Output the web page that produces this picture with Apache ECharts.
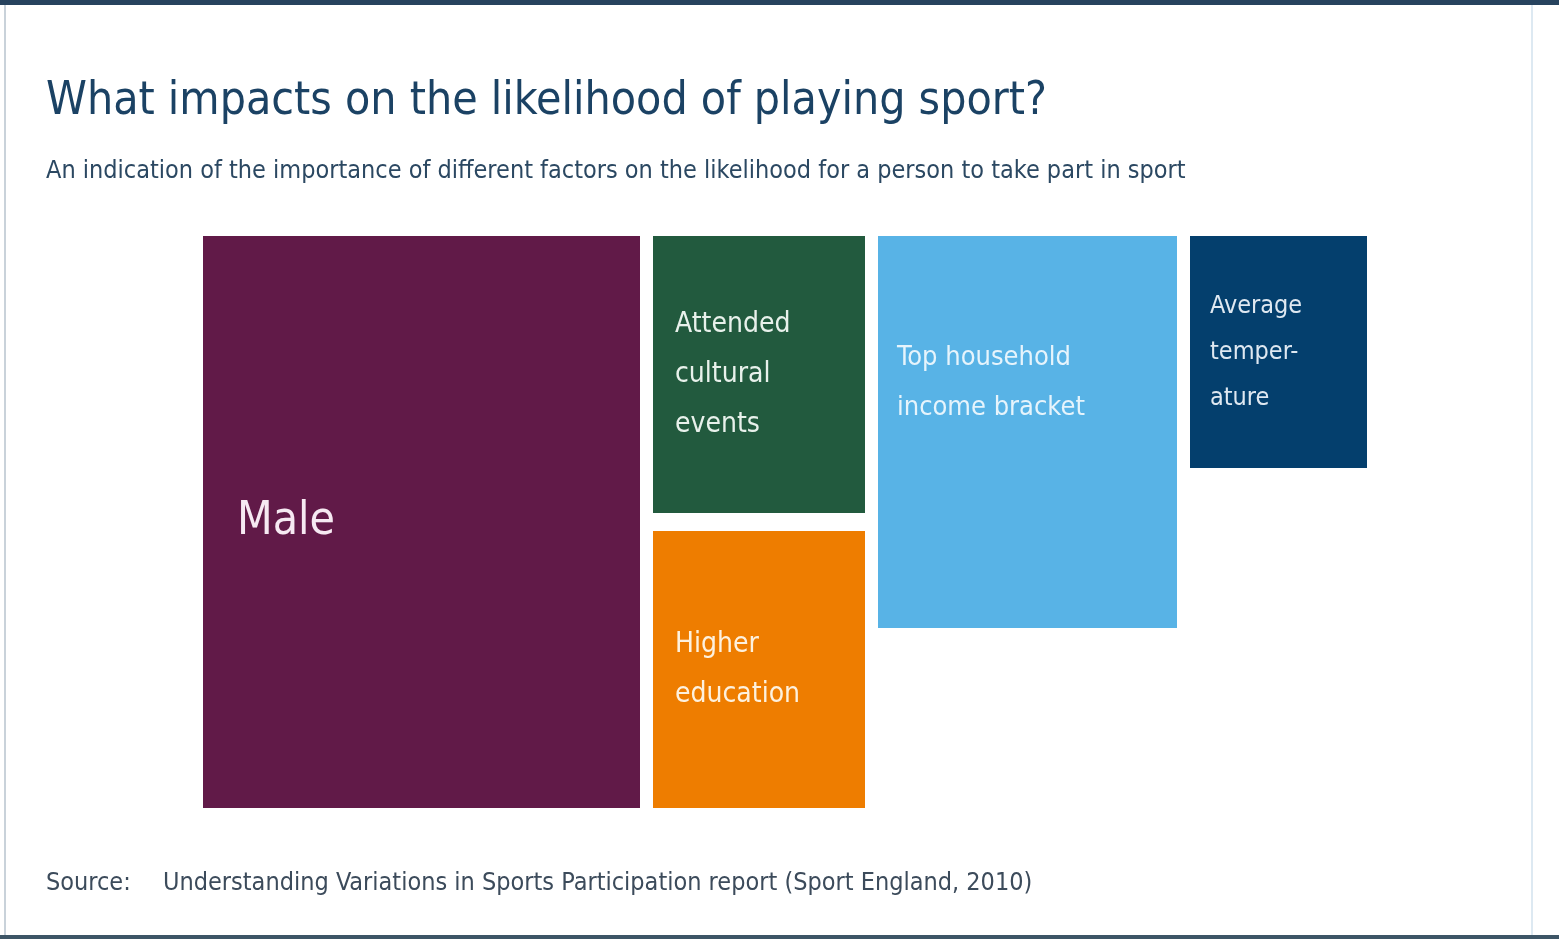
<!DOCTYPE html>
<html>
<head>
<meta charset="utf-8">
<script src="https://cdn.jsdelivr.net/npm/echarts@6/dist/echarts.min.js"></script>
<style>
  html, body { margin: 0; padding: 0; background: #ffffff; }
  #main { width: 1559px; height: 939px; }
</style>
</head>
<body>
<div id="main"></div>
<script>
// factors and their box sizes (chart units)
var factors = ['Male', 'Attended cultural events', 'Higher education', 'Top household income bracket', 'Average temperature'];
var labels = ['Male', 'Attended\ncultural\nevents', 'Higher\neducation', 'Top household\nincome bracket', 'Average\ntemper-\nature'];
var boxWidth = [437, 212, 212, 299, 177];
var boxHeight = [572, 277, 277, 392, 232];
var column = [0, 1, 1, 2, 3];
var colors = ['#611a48', '#225a3e', '#ee7d00', '#58b3e6', '#043f6d'];

var colGap = 13, rowGap = 18;
var narrow = '"DejaVu Sans Condensed", "Liberation Sans Narrow", sans-serif';

// lay boxes out column by column
var colX = [], colW = [], colY = [];
factors.forEach(function (f, i) {
    var c = column[i];
    colW[c] = Math.max(colW[c] || 0, boxWidth[i]);
});
var acc = 0;
for (var c = 0; c < colW.length; c++) {
    colX[c] = acc;
    colY[c] = 0;
    acc += colW[c] + colGap;
}
var totalW = acc - colGap;
var totalH = Math.max.apply(null, boxHeight);

var boxes = factors.map(function (f, i) {
    var c = column[i];
    var y = colY[c];
    colY[c] += boxHeight[i] + rowGap;
    return { name: f, value: [colX[c], y, boxWidth[i], boxHeight[i]] };
});

// label look per box
var labelSize = [46, 28, 28, 27, 25];
var labelLine = [60, 50, 50, 50, 46];
var labelInset = [34, 22, 22, 19, 20];
var labelTint = ['#f6e9f2', '#e8f1eb', '#fdf1de', '#e6f4fc', '#dfe8f1'];

var chart = echarts.init(document.getElementById('main'));
var option = {
    backgroundColor: '#ffffff',
    animation: false,
    title: [
        {
            text: 'What impacts on the likelihood of playing sport?',
            left: 41, top: 74,
            textStyle: { fontFamily: narrow, fontSize: 46, fontWeight: 'normal', color: '#1b4264', lineHeight: 46 }
        },
        {
            text: 'An indication of the importance of different factors on the likelihood for a person to take part in sport',
            left: 41, top: 154,
            textStyle: { fontFamily: narrow, fontSize: 25, fontWeight: 'normal', color: '#2b4862', lineHeight: 25 }
        },
        {
            text: 'Source:',
            left: 41, top: 866,
            textStyle: { fontFamily: narrow, fontSize: 25, fontWeight: 'normal', color: '#3c4b5b', lineHeight: 25 }
        },
        {
            text: 'Understanding Variations in Sports Participation report (Sport England, 2010)',
            left: 158, top: 866,
            textStyle: { fontFamily: narrow, fontSize: 25, fontWeight: 'normal', color: '#3c4b5b', lineHeight: 25 }
        }
    ],
    grid: { left: 203, top: 236, width: totalW, height: totalH },
    xAxis: { type: 'value', min: 0, max: totalW, show: false },
    yAxis: { type: 'value', min: 0, max: totalH, inverse: true, show: false },
    graphic: [
        { type: 'rect', shape: { x: 0, y: 0, width: 1559, height: 5 }, style: { fill: '#27435e' } },
        { type: 'rect', shape: { x: 0, y: 935, width: 1559, height: 4 }, style: { fill: '#3d5566' } },
        { type: 'rect', shape: { x: 4, y: 5, width: 2, height: 930 }, style: { fill: '#c9d2da' } },
        { type: 'rect', shape: { x: 1531, y: 5, width: 2, height: 930 }, style: { fill: '#dde9f2' } }
    ],
    series: [{
        type: 'custom',
        data: boxes,
        renderItem: function (params, api) {
            var i = params.dataIndex;
            var p0 = api.coord([api.value(0), api.value(1)]);
            var p1 = api.coord([api.value(0) + api.value(2), api.value(1) + api.value(3)]);
            var h = p1[1] - p0[1];
            var pos = 'insideLeft';
            // the income box label sits higher than its middle
            if (i === 3) pos = [labelInset[i], h * 0.375];
            return {
                type: 'rect',
                shape: { x: p0[0], y: p0[1], width: p1[0] - p0[0], height: h },
                style: { fill: colors[i] },
                textContent: {
                    style: {
                        text: labels[i],
                        fill: labelTint[i],
                        fontFamily: narrow,
                        fontSize: labelSize[i],
                        lineHeight: labelLine[i],
                        align: 'left',
                        verticalAlign: 'middle'
                    }
                },
                textConfig: { position: pos, distance: labelInset[i], inside: true }
            };
        }
    }]
};
chart.setOption(option);
</script>
</body>
</html>
